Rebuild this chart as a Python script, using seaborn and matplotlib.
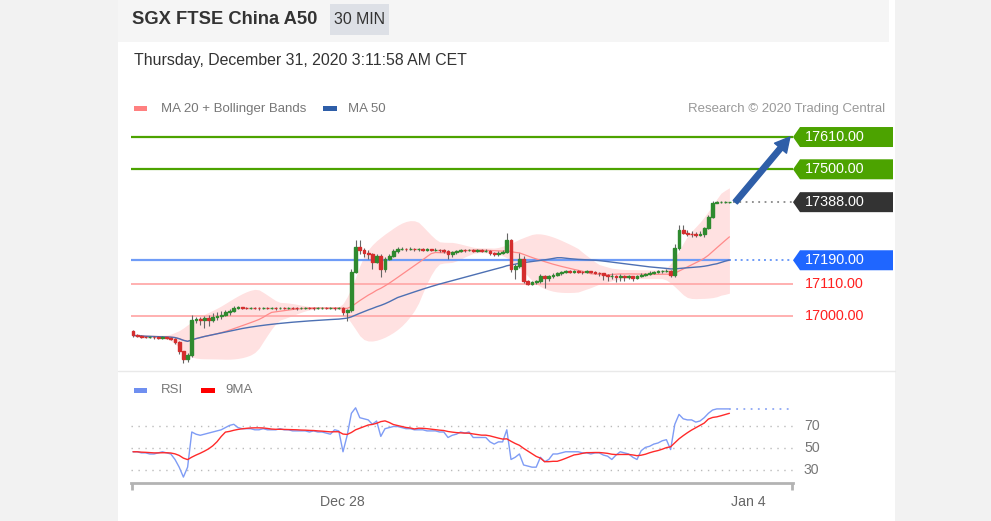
import matplotlib
matplotlib.use("Agg")
import matplotlib.pyplot as plt
from matplotlib.patches import Rectangle, Polygon, FancyArrowPatch
import seaborn as sns
import numpy as np
import pandas as pd

# 30 min candles, SGX FTSE China A50
first_open = 16950
close = [16934, 16932, 16930, 16928, 16929, 16927, 16926, 16927, 16925, 16922,
         16912, 16880, 16852, 16868, 16985, 16990, 16985, 16992, 16988, 16995,
         17000, 17005, 17012, 17018, 17028, 17030, 17028, 17027, 17029, 17027,
         17026, 17028, 17027, 17027, 17026, 17028, 17027, 17029, 17027, 17026,
         17027, 17028, 17027, 17026, 17027, 17028, 17027, 17028, 17026, 17027,
         17012, 17020, 17150, 17235, 17225, 17215, 17210, 17185, 17205, 17160,
         17195, 17205, 17220, 17228, 17230, 17228, 17229, 17227, 17228, 17226,
         17227, 17225, 17226, 17224, 17222, 17212, 17218, 17222, 17225, 17224,
         17225, 17223, 17224, 17222, 17223, 17215, 17210, 17214, 17218, 17258,
         17160, 17170, 17195, 17118, 17110, 17115, 17118, 17138, 17128, 17135,
         17140, 17145, 17150, 17152, 17150, 17153, 17151, 17149, 17152, 17150,
         17148, 17145, 17140, 17136, 17138, 17133, 17136, 17132, 17135, 17130,
         17135, 17140, 17143, 17147, 17150, 17152, 17154, 17155, 17140, 17232,
         17293, 17283, 17280, 17278, 17276, 17280, 17300, 17338, 17385, 17388,
         17388, 17388, 17388]
high = [16952, 16937, 16935, 16933, 16933, 16932, 16931, 16931, 16930, 16928,
        16925, 16915, 16878, 16874, 17003, 16998, 16995, 17000, 17005, 17010,
        17015, 17018, 17020, 17025, 17035, 17034, 17032, 17031, 17032, 17031,
        17030, 17031, 17030, 17031, 17030, 17032, 17030, 17032, 17031, 17030,
        17030, 17032, 17031, 17030, 17031, 17032, 17030, 17031, 17030, 17031,
        17032, 17025, 17160, 17260, 17258, 17232, 17225, 17215, 17212, 17210,
        17200, 17212, 17228, 17234, 17235, 17233, 17234, 17232, 17233, 17231,
        17232, 17230, 17231, 17229, 17228, 17225, 17222, 17226, 17230, 17229,
        17230, 17228, 17229, 17227, 17228, 17225, 17218, 17220, 17224, 17283,
        17262, 17176, 17215, 17205, 17122, 17120, 17124, 17142, 17140, 17140,
        17145, 17150, 17155, 17157, 17156, 17158, 17156, 17154, 17157, 17155,
        17153, 17150, 17147, 17142, 17145, 17140, 17142, 17140, 17140, 17137,
        17140, 17145, 17148, 17152, 17155, 17157, 17158, 17160, 17157, 17245,
        17310, 17310, 17292, 17290, 17288, 17290, 17305, 17345, 17392, 17392,
        17391, 17391, 17390]
low = [16930, 16928, 16926, 16924, 16925, 16923, 16922, 16922, 16920, 16918,
       16905, 16872, 16840, 16842, 16860, 16975, 16970, 16960, 16965, 16980,
       16985, 16990, 17000, 17005, 17012, 17025, 17024, 17023, 17025, 17023,
       17022, 17024, 17023, 17024, 17022, 17024, 17023, 17025, 17023, 17022,
       17023, 17024, 17023, 17022, 17023, 17024, 17023, 17024, 17022, 17023,
       17005, 16982, 17015, 17145, 17210, 17200, 17195, 17160, 17180, 17132,
       17150, 17190, 17200, 17215, 17225, 17223, 17224, 17222, 17223, 17221,
       17222, 17220, 17221, 17219, 17215, 17195, 17200, 17210, 17218, 17219,
       17220, 17218, 17219, 17217, 17218, 17208, 17204, 17206, 17210, 17215,
       17150, 17125, 17165, 17112, 17104, 17106, 17108, 17112, 17095, 17120,
       17128, 17135, 17140, 17145, 17145, 17147, 17146, 17144, 17146, 17145,
       17142, 17138, 17122, 17118, 17125, 17116, 17120, 17118, 17125, 17120,
       17126, 17132, 17136, 17140, 17144, 17146, 17148, 17150, 17133, 17133,
       17225, 17278, 17272, 17270, 17268, 17272, 17268, 17295, 17335, 17384,
       17385, 17385, 17386]
rsi = [47, 47, 46, 46, 45, 45, 46, 47, 46, 45,
       40, 33, 24, 33, 65, 63, 62, 63, 64, 65,
       66, 67, 69, 71, 72, 69, 68, 68, 68, 67,
       67, 68, 67, 67, 67, 68, 67, 67, 66, 66,
       66, 66, 65, 66, 65, 65, 64, 63, 67, 66,
       47, 62, 82, 87, 78, 77, 76, 72, 75, 61,
       68, 69, 70, 70, 69, 68, 68, 67, 67, 67,
       66, 66, 66, 65, 65, 60, 62, 63, 65, 64,
       65, 60, 60, 60, 60, 56, 54, 56, 56, 67,
       40, 42, 45, 35, 34, 33, 33, 42, 38, 40,
       45, 45, 46, 47, 47, 47, 47, 46, 46, 45,
       46, 46, 44, 43, 40, 44, 47, 46, 45, 42,
       40, 48, 51, 52, 54, 55, 57, 58, 49, 72,
       81, 77, 76, 76, 74, 75, 78, 82, 85, 86,
       86, 86, 86]

resistances = [17610, 17500]
last_price = 17388
pivot = 17190
supports = [17110, 17000]
rsi_levels = [70, 50, 30]
date_ticks = [49.8, 146.4]
date_labels = ["Dec 28", "Jan 4"]

sns.set_theme(style="white")
plt.rcParams["font.family"] = ["Liberation Sans", "DejaVu Sans"]

df = pd.DataFrame({"close": close, "high": high, "low": low, "rsi": rsi})
df["idx"] = np.arange(len(df))
df["open"] = [first_open] + close[:-1]
df["ma20"] = df["close"].rolling(20, min_periods=1).mean()
sd = df["close"].rolling(20, min_periods=2).std(ddof=0).fillna(0)
df["bb_up"] = (df["ma20"] + 2 * sd).rolling(5, center=True, min_periods=1).mean()
df["bb_lo"] = (df["ma20"] - 2 * sd).rolling(5, center=True, min_periods=1).mean()
df["ma50"] = df["close"].rolling(50, min_periods=1).mean()
df["rsi9"] = df["rsi"].rolling(9, min_periods=1).mean()
n = len(df)

W, H = 991, 521


def box(x0, y0, x1, y1):
    return [x0 / W, 1 - y1 / H, (x1 - x0) / W, (y1 - y0) / H]


fig = plt.figure(figsize=(W / 100, H / 100), dpi=100)
fig.patch.set_facecolor("#f2f2f2")

# background card + header
bg = fig.add_axes([0, 0, 1, 1], zorder=0)
bg.set_xlim(0, W)
bg.set_ylim(H, 0)
bg.axis("off")
bg.add_patch(Rectangle((118, 0), 777, H, color="white", lw=0))
bg.add_patch(Rectangle((118, 0), 771, 42, color="#f5f5f5", lw=0))
bg.add_patch(Rectangle((330, 4), 59, 31, color="#dde0e6", lw=0))
bg.plot([118, 895], [370.5, 370.5], color="#e9e9e9", lw=1)
bg.text(132, 20, "SGX FTSE China A50", fontsize=13.2, fontweight="bold",
        color="#333333", va="center")
bg.text(359, 20, "30 MIN", fontsize=11.4, color="#333333", ha="center", va="center")
bg.text(134, 60, "Thursday, December 31, 2020 3:11:58 AM CET", fontsize=11.4,
        color="#333333", va="center")
bg.add_patch(Rectangle((134, 106), 13, 5, color="#ff8080", lw=0))
bg.text(161, 109, "MA 20 + Bollinger Bands", fontsize=9.5, color="#777777", va="center")
bg.add_patch(Rectangle((323, 106), 14, 5, color="#2e5ea8", lw=0))
bg.text(348, 109, "MA 50", fontsize=9.5, color="#777777", va="center")
bg.text(885, 109, "Research © 2020 Trading Central", fontsize=9.5, color="#999999",
        ha="right", va="center")
bg.add_patch(Rectangle((134, 388), 13, 5, color="#6f8ff0", lw=0))
bg.text(161, 390, "RSI", fontsize=9.5, color="#777777", va="center")
bg.add_patch(Rectangle((201, 388), 14, 5, color="#ff0000", lw=0))
bg.text(225, 390, "9MA", fontsize=9.5, color="#777777", va="center")

X0, X1 = -0.476, 157.14

# price panel
ax = fig.add_axes(box(131, 120, 793, 370), zorder=1)
ax.set_facecolor("none")
ax.set_xlim(X0, X1)
ax.set_ylim(16816, 17668)
ax.axis("off")

ax.fill_between(df["idx"], df["bb_lo"], df["bb_up"], color="#ffe1e1", lw=0, zorder=1)
for lv in resistances:
    ax.axhline(lv, color="#4ca300", lw=1.6, zorder=2)
for lv in supports:
    ax.axhline(lv, color="#ffaaaa", lw=1.3, zorder=2)
ax.plot([X0, n - 1], [pivot, pivot], color="#6f9cf7", lw=1.6, zorder=2)
ax.plot([n - 1, X1], [pivot, pivot], color="#6f9cf7", lw=1.4, ls=(0, (1, 2)), zorder=2)
ax.plot([n - 0.2, X1], [last_price, last_price], color="#888888", lw=1.3,
        ls=(0, (1, 2.5)), zorder=2)

sns.lineplot(data=df, x="idx", y="ma20", ax=ax, color="#ff8a8a", lw=0.9, zorder=3)
sns.lineplot(data=df, x="idx", y="ma50", ax=ax, color="#4d70b3", lw=1, zorder=3)
ax.axis("off")

up = df["close"] >= df["open"]
cols = np.where(up, "#2f8a2f", "#d42e2e")
body_lo = np.minimum(df["open"], df["close"])
body_h = (df["close"] - df["open"]).abs()
ax.vlines(df["idx"], df["low"], df["high"], color="#666666", lw=0.8, zorder=4)
ax.bar(df["idx"], body_h, bottom=body_lo, width=0.7, color=cols, edgecolor=cols,
       linewidth=1.0, zorder=5)

arrow = FancyArrowPatch((n - 1 + 1.4, last_price), (156.4, resistances[0]),
                        arrowstyle="simple,head_length=0.75,head_width=0.8,tail_width=0.28",
                        mutation_scale=14, color="#2e5ea8", shrinkA=0, shrinkB=0,
                        zorder=6, clip_on=False)
ax.add_patch(arrow)

# RSI panel
rax = fig.add_axes(box(131, 400, 793, 483), zorder=1)
rax.set_facecolor("none")
rax.set_xlim(X0, X1)
rax.set_ylim(18.6, 94.1)
for lv in rsi_levels:
    rax.axhline(lv, color="#bbbbbb", lw=1, ls=(0, (1, 4)))
sns.lineplot(data=df, x="idx", y="rsi", ax=rax, color="#7f9cf5", lw=1)
sns.lineplot(data=df, x="idx", y="rsi9", ax=rax, color="#ff2a2a", lw=1)
rax.plot([n - 1, 156.4], [rsi[-1], rsi[-1]], color="#8fa8f5", lw=1.3, ls=(0, (1, 3)))
sns.despine(ax=rax, left=True, top=True, right=True)
rax.spines["bottom"].set_color("#b3b3b3")
rax.spines["bottom"].set_linewidth(2)
rax.set_xlabel("")
rax.set_ylabel("")
rax.set_yticks([])
rax.set_xticks(date_ticks)
rax.set_xticklabels(date_labels)
rax.set_xticks([X0 + 0.15, X1 - 0.15], minor=True)
rax.tick_params(axis="x", which="major", length=0, pad=9, labelsize=10.2, labelcolor="#666666")
rax.tick_params(axis="x", which="minor", length=5, width=2, color="#b3b3b3",
                direction="out", bottom=True)
for lv in rsi_levels:
    rax.text(1 + 11 / 662, lv, str(lv), transform=rax.get_yaxis_transform(),
             fontsize=10.2, color="#777777", va="center", ha="left")

# price labels on the right
ov = fig.add_axes([0, 0, 1, 1], zorder=3)
ov.set_xlim(0, W)
ov.set_ylim(H, 0)
ov.axis("off")
ov.set_facecolor("none")


def ypix(v):
    return H - ax.transData.transform((0, v))[1]


def tag(v, color):
    y = ypix(v)
    ov.add_patch(Polygon([(793, y), (800, y - 10), (893, y - 10), (893, y + 10), (800, y + 10)],
                         closed=True, color=color, lw=0))
    ov.text(805, y, f"{v:.2f}", color="white", fontsize=10.4, va="center", ha="left")


for lv in resistances:
    tag(lv, "#4ca300")
tag(last_price, "#333333")
tag(pivot, "#1f66ff")
for lv in supports:
    ov.text(805, ypix(lv), f"{lv:.2f}", color="#ff2020", fontsize=10.4, va="center", ha="left")

fig.savefig("out.png", dpi=100)
